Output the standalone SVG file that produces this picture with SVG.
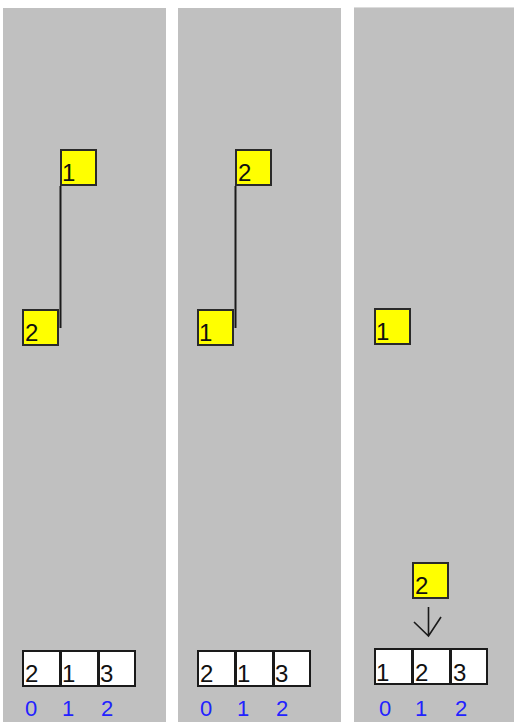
<svg xmlns="http://www.w3.org/2000/svg" width="514" height="722" viewBox="0 0 514 722">
<style>
.panel{fill:#c0c0c0}
.node{fill:#ffff00;stroke:#2a2a2a;stroke-width:2}
.cell{fill:#ffffff;stroke:#1a1a1a;stroke-width:2}
.div{stroke:#1a1a1a;stroke-width:3}
.t{font-family:"Liberation Sans",Arial,sans-serif;font-size:24px;fill:#111}
.idx{font-family:"Liberation Sans",Arial,sans-serif;font-size:22px;fill:#2222ff}
.conn{stroke:#1a1a1a;stroke-width:2;fill:none}
.arr{stroke:#1a1a1a;stroke-width:1.6;fill:none}
</style>
<rect width="514" height="722" fill="#ffffff"/>
<g id="panels">
<rect class="panel" x="3" y="8" width="163" height="714"/>
<rect class="panel" x="178" y="8" width="163" height="714"/>
<rect class="panel" x="354" y="7" width="160" height="715"/>
<rect x="354" y="7" width="160" height="1" fill="#dcdcdc"/>
</g>
<g id="connectors">
<line class="conn" x1="60.5" y1="186" x2="60.5" y2="328"/>
<line class="conn" x1="235.5" y1="186" x2="235.5" y2="328"/>
<path class="arr" d="M428.5,607 V636 M414,622 L428.5,636 L441,617"/>
</g>
<g id="p1-node1"><rect class="node" x="61" y="150" width="35" height="35"/><text class="t" x="62" y="181">1</text></g>
<g id="p1-node2"><rect class="node" x="23" y="310" width="35" height="35"/><text class="t" x="25" y="341">2</text></g>
<g id="p2-node2"><rect class="node" x="236" y="150" width="35" height="35"/><text class="t" x="238" y="181">2</text></g>
<g id="p2-node1"><rect class="node" x="198" y="310" width="35" height="35"/><text class="t" x="199" y="341">1</text></g>
<g id="p3-node1"><rect class="node" x="375" y="309" width="35" height="35"/><text class="t" x="376" y="340">1</text></g>
<g id="p3-node2"><rect class="node" x="413" y="563" width="35" height="35"/><text class="t" x="415" y="594">2</text></g>
<g id="p1-array">
<rect class="cell" x="23" y="651" width="112" height="35"/>
<line class="div" x1="60.5" y1="650" x2="60.5" y2="687"/>
<line class="div" x1="98.5" y1="650" x2="98.5" y2="687"/>
<text class="t" x="25" y="682">2</text><text class="t" x="62" y="682">1</text><text class="t" x="100" y="682">3</text>
<text class="idx" x="25" y="716">0</text><text class="idx" x="62" y="716">1</text><text class="idx" x="101" y="716">2</text>
</g>
<g id="p2-array">
<rect class="cell" x="198" y="651" width="112" height="35"/>
<line class="div" x1="235.5" y1="650" x2="235.5" y2="687"/>
<line class="div" x1="273.5" y1="650" x2="273.5" y2="687"/>
<text class="t" x="200" y="682">2</text><text class="t" x="237" y="682">1</text><text class="t" x="275" y="682">3</text>
<text class="idx" x="200" y="716">0</text><text class="idx" x="237" y="716">1</text><text class="idx" x="276" y="716">2</text>
</g>
<g id="p3-array">
<rect class="cell" x="375" y="649" width="112" height="35"/>
<line class="div" x1="412.5" y1="648" x2="412.5" y2="685"/>
<line class="div" x1="450.5" y1="648" x2="450.5" y2="685"/>
<text class="t" x="376" y="681">1</text><text class="t" x="415" y="681">2</text><text class="t" x="453" y="681">3</text>
<text class="idx" x="379" y="716">0</text><text class="idx" x="415" y="716">1</text><text class="idx" x="455" y="716">2</text>
</g>
</svg>
